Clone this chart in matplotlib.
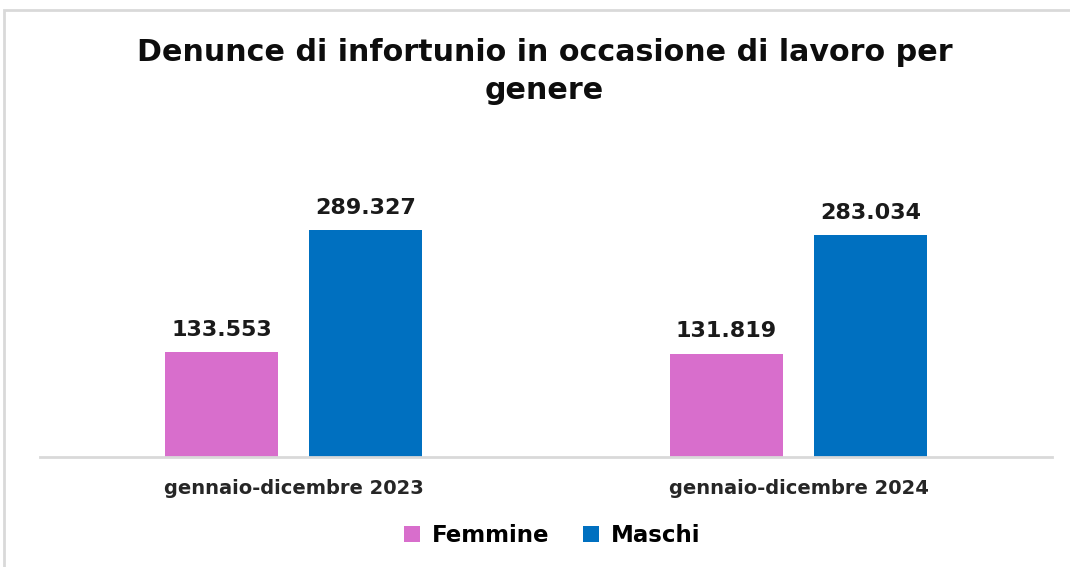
import matplotlib
matplotlib.use("Agg")
import matplotlib.pyplot as plt
import numpy as np
from matplotlib.patches import Rectangle

plt.rcParams['font.family'] = ['DejaVu Sans']

periodi = ['gennaio-dicembre 2023', 'gennaio-dicembre 2024']
femmine = [133553, 131819]
maschi = [289327, 283034]
etichette_f = ['133.553', '131.819']
etichette_m = ['289.327', '283.034']

col_f = '#D86ECC'
col_m = '#0070C0'

fig = plt.figure(figsize=(10.7, 5.67), dpi=100)
ax = fig.add_axes([0.0374, 0.194, 0.9458, 0.5256])

# cornice grigia intorno al grafico
fig.patches.append(Rectangle((4 / 1070, -0.05), 1.1, 1 - 10 / 567 + 0.05,
                             transform=fig.transFigure, fill=False,
                             edgecolor='#D9D9D9', linewidth=2))

x = np.arange(len(periodi))
w = 0.224
off = 0.1426
b1 = ax.bar(x - off, femmine, w, color=col_f, label='Femmine')
b2 = ax.bar(x + off, maschi, w, color=col_m, label='Maschi')

for bars, labs in ((b1, etichette_f), (b2, etichette_m)):
    for b, t in zip(bars, labs):
        ax.annotate(t, (b.get_x() + b.get_width() / 2, b.get_height()),
                    xytext=(0, 9), textcoords='offset points',
                    ha='center', va='bottom', fontsize=16, fontweight='bold',
                    color='#1a1a1a')

ax.set_xlim(-0.502, 1.502)
ax.set_ylim(0, 380000)
ax.set_xticks(x)
ax.set_xticklabels(periodi, fontsize=14, fontweight='bold', color='#262626')
ax.tick_params(axis='x', length=0, pad=16)
ax.set_yticks([])
for s in ['top', 'right', 'left']:
    ax.spines[s].set_visible(False)
ax.spines['bottom'].set_color('#D9D9D9')
ax.spines['bottom'].set_linewidth(2)

fig.text(0.509, 0.874, 'Denunce di infortunio in occasione di lavoro per\ngenere',
         ha='center', va='center', fontsize=21.7, fontweight='bold',
         color='#0d0d0d', linespacing=1.42)

fig.legend(handles=[b1, b2], loc='center', bbox_to_anchor=(0.516, 0.055),
           ncol=2, frameon=False, handlelength=0.7, handleheight=0.7,
           handletextpad=0.5, columnspacing=1.5,
           prop={'size': 16.5, 'weight': 'bold'})

fig.savefig('out.png', dpi=100)
